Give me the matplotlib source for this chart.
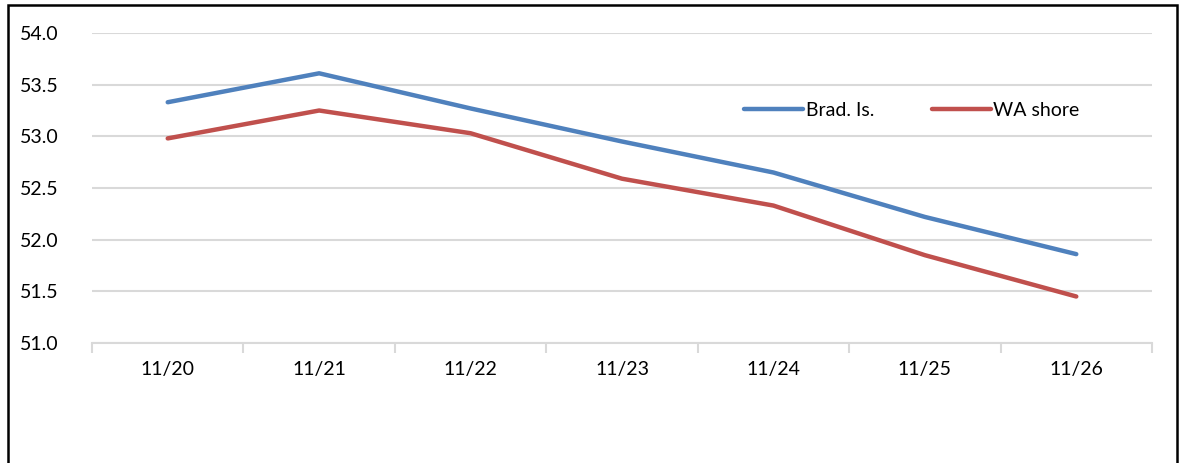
import matplotlib.pyplot as plt
from matplotlib.patches import Rectangle

# values
dates = ['11/20', '11/21', '11/22', '11/23', '11/24', '11/25', '11/26']
brad_is = [53.33, 53.61, 53.27, 52.95, 52.65, 52.22, 51.86]
wa_shore = [52.98, 53.25, 53.03, 52.59, 52.33, 51.85, 51.45]

plt.rcParams['font.family'] = ['Lato', 'DejaVu Sans']
plt.rcParams['font.size'] = 14

W, H = 1183, 463
fig = plt.figure(figsize=(W / 100, H / 100), dpi=100)
ax = fig.add_axes([92 / W, 1 - 343 / H, (1152 - 92) / W, (343 - 33) / H])

x = range(len(dates))
ax.plot(x, brad_is, color='#4f81bd', lw=3.2, label='Brad. Is.', solid_capstyle='round')
ax.plot(x, wa_shore, color='#c0504d', lw=3.2, label='WA shore', solid_capstyle='round')

ax.set_xlim(-0.5, len(dates) - 0.5)
ax.set_ylim(51.0, 54.0)
ax.set_yticks([51.0, 51.5, 52.0, 52.5, 53.0, 53.5, 54.0])
ax.set_yticklabels([f'{v:.1f}' for v in ax.get_yticks()])
ax.set_xticks(list(x))
ax.set_xticklabels(dates)
ax.set_xticks([i - 0.5 for i in range(len(dates) + 1)], minor=True)
ax.tick_params(axis='x', which='major', length=0, pad=13)
ax.tick_params(axis='x', which='minor', length=7, color='#d9d9d9', width=1.5)
ax.tick_params(axis='y', length=0, pad=24)

ax.grid(axis='y', color='#d9d9d9', lw=1.5)
ax.set_axisbelow(True)
for s in ['top', 'right', 'left']:
    ax.spines[s].set_visible(False)
ax.spines['bottom'].set_color('#d9d9d9')
ax.spines['bottom'].set_linewidth(1.5)

ax.legend(loc='center', bbox_to_anchor=((912 - 92) / (1152 - 92), (343 - 110) / (343 - 33)),
          ncol=2, frameon=False, handlelength=3.0, handletextpad=0.15, columnspacing=3.0)

# outer chart border (bottom edge is cut off in the reference)
fig.patches.append(Rectangle((8 / W, -0.1), (1177 - 8) / W, 1.1 - 5 / H,
                             transform=fig.transFigure, fill=False, ec='black', lw=1.8))

fig.savefig('out.png', dpi=100)
